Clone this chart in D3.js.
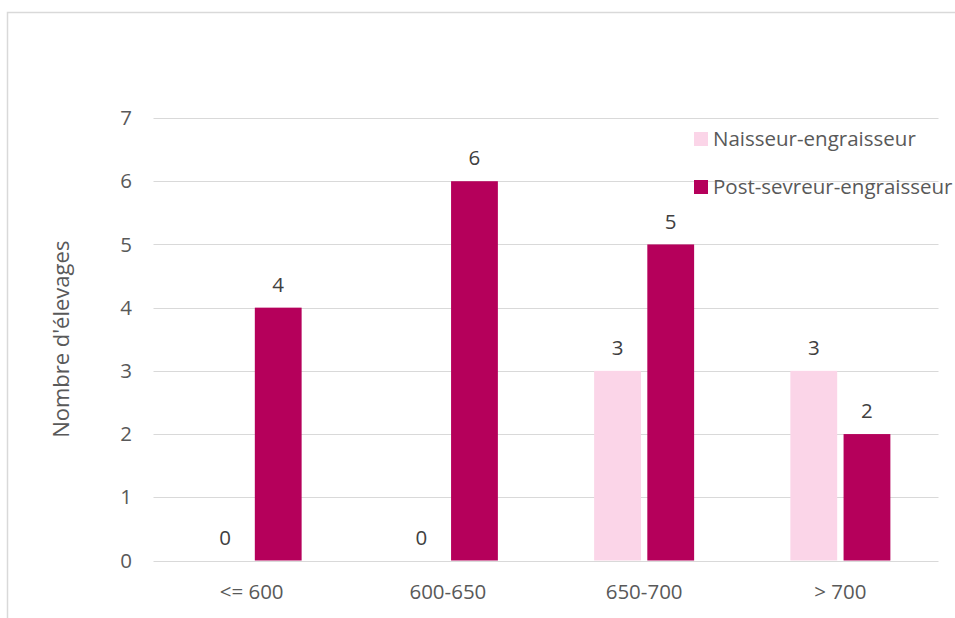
<!DOCTYPE html>
<html>
<head>
<meta charset="utf-8">
<script src="https://cdn.jsdelivr.net/npm/d3@7"></script>
<style>
  body { margin: 0; background: #fff; }
  text { font-family: "Open Sans", sans-serif; }
</style>
</head>
<body>
<div class="chart"></div>
<script>
const width = 955
const height = 618

// data
const categories = ["<= 600", "600-650", "650-700", "> 700"]
const seriesNames = ["Naisseur-engraisseur", "Post-sevreur-engraisseur"]
const naisseur = [0, 0, 3, 3]
const postSevreur = [4, 6, 5, 2]
const yTicks = [0, 1, 2, 3, 4, 5, 6, 7]
const colors = ["#fbd5e8", "#b5005b"]

const svg = d3.select('.chart')
    .append('svg')
    .attr('width', width)
    .attr('height', height)

// outer frame (only top and left visible)
svg.append("rect")
    .attr("x", 7.5).attr("y", 12.5)
    .attr("width", 1000).attr("height", 700)
    .attr("fill", "none")
    .attr("stroke", "#d9d9d9")
    .attr("stroke-width", 1.5)

const x = d3.scaleBand()
    .domain(categories)
    .range([153.5, 938.5])

const y = d3.scaleLinear()
    .domain([0, 7])
    .range([560.5, 118])

const sub = d3.scaleBand()
    .domain(seriesNames)
    .range([x.bandwidth() / 2 - 50, x.bandwidth() / 2 + 50])
    .paddingInner(0.12)

// gridlines
svg.append("g")
    .selectAll("line")
    .data(yTicks)
    .join("line")
    .attr("x1", 153.5)
    .attr("x2", 938.5)
    .attr("y1", d => Math.round(y(d)) + 0.5)
    .attr("y2", d => Math.round(y(d)) + 0.5)
    .attr("stroke", "#d9d9d9")
    .attr("stroke-width", 1)

// y tick labels
svg.append("g")
    .selectAll("text")
    .data(yTicks)
    .join("text")
    .attr("x", 132)
    .attr("y", d => y(d))
    .attr("dy", "0.35em")
    .attr("text-anchor", "end")
    .attr("font-size", "20.5px")
    .attr("fill", "#595959")
    .text(d => d)

// x labels
svg.append("g")
    .selectAll("text")
    .data(categories)
    .join("text")
    .attr("x", d => x(d) + x.bandwidth() / 2)
    .attr("y", 592)
    .attr("dy", "0.35em")
    .attr("text-anchor", "middle")
    .attr("font-size", "20.5px")
    .attr("fill", "#595959")
    .text(d => d)

// y title
svg.append("text")
    .attr("transform", `translate(61, ${y(3.5)}) rotate(-90)`)
    .attr("dy", "0.35em")
    .attr("text-anchor", "middle")
    .attr("font-size", "22px")
    .attr("fill", "#595959")
    .text("Nombre d'élevages")

// bars
const rows = categories.map((c, i) => ({ cat: c, values: [naisseur[i], postSevreur[i]] }))

const groups = svg.append("g")
    .selectAll("g")
    .data(rows)
    .join("g")
    .attr("transform", d => `translate(${x(d.cat)},0)`)

groups.selectAll("rect")
    .data(d => d.values.map((v, j) => ({ name: seriesNames[j], value: v, j })))
    .join("rect")
    .attr("x", d => sub(d.name))
    .attr("y", d => y(d.value))
    .attr("width", sub.bandwidth())
    .attr("height", d => y(0) - y(d.value))
    .attr("fill", d => colors[d.j])

groups.selectAll("text")
    .data(d => d.values.map((v, j) => ({ name: seriesNames[j], value: v, j })))
    .join("text")
    .attr("x", d => sub(d.name) + sub.bandwidth() / 2)
    .attr("y", d => y(d.value) - 23)
    .attr("dy", "0.35em")
    .attr("text-anchor", "middle")
    .attr("font-size", "20.5px")
    .attr("fill", "#404040")
    .text(d => d.value)

// legend
const legend = svg.append("g")
    .attr("transform", "translate(694, 132)")

const items = legend.selectAll("g")
    .data(seriesNames)
    .join("g")
    .attr("transform", (d, i) => `translate(0, ${i * 48})`)

items.append("rect")
    .attr("width", 14)
    .attr("height", 14)
    .attr("fill", (d, i) => colors[i])

items.append("text")
    .attr("x", 19)
    .attr("y", 7)
    .attr("dy", "0.35em")
    .attr("font-size", "20.5px")
    .attr("fill", "#595959")
    .text(d => d)
</script>
</body>
</html>
